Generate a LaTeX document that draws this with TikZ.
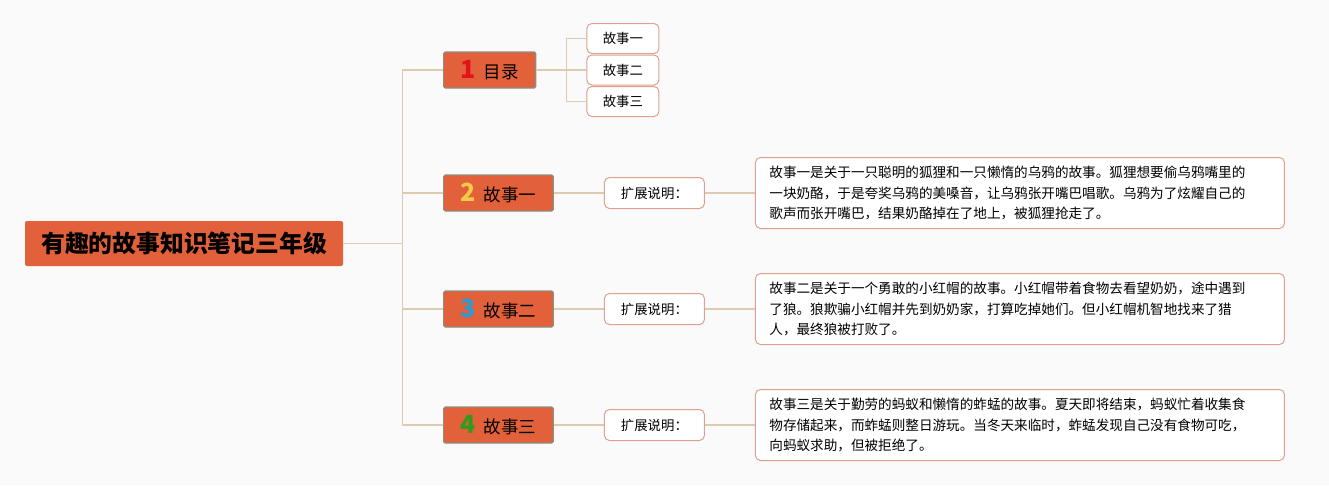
\documentclass[tikz,border=0pt]{standalone}
\usepackage{fontspec}
\setmainfont{Noto Sans CJK SC}
\usetikzlibrary{positioning}

\definecolor{bgcol}{HTML}{FAFAFA}
\definecolor{topicfill}{HTML}{E2603A}
\definecolor{topicedge}{HTML}{8E8E7E}
\definecolor{linkcol}{HTML}{DCCBB0}
\definecolor{noteedge}{HTML}{E0A08E}
\definecolor{numred}{HTML}{E3121C}
\definecolor{numyellow}{HTML}{F7C948}
\definecolor{numblue}{HTML}{2B9AD6}
\definecolor{numgreen}{HTML}{2E9B1F}
\newcommand{\topicnum}[2]{{\fontsize{25}{25}\selectfont\bfseries\color{#1}#2}\hspace{8pt}}

\begin{document}
\begin{tikzpicture}[
  x=1pt, y=-1pt,
  root/.style={
    fill=topicfill,
    rounded corners=2pt,
    minimum width=318pt,
    minimum height=45pt,
    inner sep=0pt,
    font=\fontsize{23.8}{26}\selectfont\bfseries
  },
  topic/.style={
    draw=topicedge,
    fill=topicfill,
    line width=1.2pt,
    rounded corners=1.5pt,
    anchor=west,
    minimum height=36pt,
    inner xsep=17pt,
    inner ysep=0pt,
    font=\fontsize{17.5}{20}\selectfont
  },
  sub/.style={
    draw=noteedge,
    fill=white,
    line width=1pt,
    rounded corners=5pt,
    minimum height=30pt,
    inner sep=0pt,
    font=\fontsize{13.4}{16}\selectfont
  },
  note/.style={
    draw=noteedge,
    fill=white,
    line width=1pt,
    rounded corners=5pt,
    text width=501pt,
    inner xsep=14pt,
    inner ysep=0pt,
    minimum height=71pt,
    align=left,
    font=\fontsize{13.6}{20.5}\selectfont
  },
  link/.style={draw=linkcol, line width=1.5pt}
]

\fill[bgcol] (0,0) rectangle (1329,485);

\node[root] (root) at (184,243.5) {有趣的故事知识笔记三年级};
\coordinate (hub) at (402.5,243.5);

\node[topic] (t1) at (443,70) {\topicnum{numred}{1}目录};
\node[topic] (t2) at (443,193) {\topicnum{numyellow}{2}故事一};
\node[topic] (t3) at (443,309) {\topicnum{numblue}{3}故事二};
\node[topic] (t4) at (443,425) {\topicnum{numgreen}{4}故事三};

\coordinate[right=30pt of t1.east] (fork);
\node[sub, minimum width=72pt, right=50pt of t1] (s2) {故事二};
\node[sub, minimum width=72pt, above=0.5pt of s2] (s1) {故事一};
\node[sub, minimum width=72pt, below=0.5pt of s2] (s3) {故事三};

\node[sub, minimum width=100pt, minimum height=31pt, right=50pt of t2] (x2) {扩展说明：};
\node[sub, minimum width=100pt, minimum height=31pt, right=50pt of t3] (x3) {扩展说明：};
\node[sub, minimum width=100pt, minimum height=31pt, right=50pt of t4] (x4) {扩展说明：};

\node[note, right=50pt of x2] (n2) {故事一是关于一只聪明的狐狸和一只懒惰的乌鸦的故事。狐狸想要偷乌鸦嘴里的\\一块奶酪，于是夸奖乌鸦的美嗓音，让乌鸦张开嘴巴唱歌。乌鸦为了炫耀自己的\\歌声而张开嘴巴，结果奶酪掉在了地上，被狐狸抢走了。};
\node[note, right=50pt of x3] (n3) {故事二是关于一个勇敢的小红帽的故事。小红帽带着食物去看望奶奶，途中遇到\\了狼。狼欺骗小红帽并先到奶奶家，打算吃掉她们。但小红帽机智地找来了猎\\人，最终狼被打败了。};
\node[note, right=50pt of x4] (n4) {故事三是关于勤劳的蚂蚁和懒惰的蚱蜢的故事。夏天即将结束，蚂蚁忙着收集食\\物存储起来，而蚱蜢则整日游玩。当冬天来临时，蚱蜢发现自己没有食物可吃，\\向蚂蚁求助，但被拒绝了。};

\draw[link] (root) -- (hub);
\draw[link] (hub) |- (t1);
\draw[link] (hub) |- (t2);
\draw[link] (hub) |- (t3);
\draw[link] (hub) |- (t4);
\draw[link] (t1) -- (fork);
\draw[link] (fork) |- (s1);
\draw[link] (fork) -- (s2);
\draw[link] (fork) |- (s3);
\draw[link] (t2) -- (x2);
\draw[link] (t3) -- (x3);
\draw[link] (t4) -- (x4);
\draw[link] (x2) -- (n2);
\draw[link] (x3) -- (n3);
\draw[link] (x4) -- (n4);

\end{tikzpicture}
\end{document}
